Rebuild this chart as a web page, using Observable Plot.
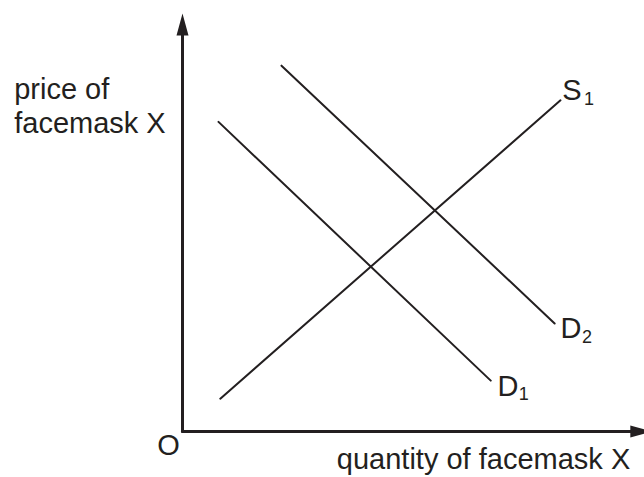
<!DOCTYPE html>
<html>
<head>
<meta charset="utf-8">
<script src="https://cdn.jsdelivr.net/npm/d3@7"></script>
<script src="https://cdn.jsdelivr.net/npm/@observablehq/plot@0.6"></script>
<style>
  html, body { margin: 0; padding: 0; background: #fff; }
  svg { display: block; }
</style>
</head>
<body>
<div id="chart"></div>
<script>
// Economic diagram, abstract units (quantity on x, price on y)
const demand1 = [{q: 0.8, p: 6.88}, {q: 6.85, p: 1.13}];
const demand2 = [{q: 2.2, p: 8.13}, {q: 8.27, p: 2.4}];
const supply1 = [{q: 0.84, p: 0.73}, {q: 8.4, p: 7.36}];

const xAxisLine = [{q: 0, p: 0}, {q: 10.2, p: 0}];
const yAxisLine = [{q: 0, p: 0}, {q: 0, p: 9.0}];
const arrowTips = [{q: 0, p: 9.29, angle: 0}, {q: 10.44, p: 0, angle: 90}];

const curveLabels = [
  {q: 8.44, p: 7.36, text: "S"},
  {q: 8.4, p: 2.07, text: "D"},
  {q: 7.0, p: 0.8, text: "D"}
];
const curveSubscripts = [
  {q: 8.92, p: 7.25, text: "1"},
  {q: 8.88, p: 1.96, text: "2"},
  {q: 7.47, p: 0.69, text: "1"}
];
const axisTitles = [
  {q: -3.74, p: 6.644, text: "price of\nfacemask X"},
  {q: 3.43, p: -0.844, text: "quantity of facemask X"}
];
const originLabel = [{q: -0.31, p: -0.533, text: "O"}];

const ink = "#231f20";
const arrowHead = {
  draw(context) {
    context.moveTo(0, 0);
    context.lineTo(-6, 22);
    context.lineTo(6, 22);
    context.closePath();
  }
};

const chart = Plot.plot({
  width: 644,
  height: 477,
  margin: 0,
  style: {fontFamily: "'Liberation Sans', Arial, sans-serif", background: "#fff"},
  x: {domain: [0, 10], range: [182, 632], axis: null},
  y: {domain: [0, 9], range: [431, 26], axis: null},
  marks: [
    Plot.line(xAxisLine, {x: "q", y: "p", stroke: ink, strokeWidth: 3}),
    Plot.line(yAxisLine, {x: "q", y: "p", stroke: ink, strokeWidth: 3}),
    Plot.dot(arrowTips, {x: "q", y: "p", rotate: "angle", symbol: arrowHead, fill: ink, stroke: "none"}),
    Plot.line(demand1, {x: "q", y: "p", stroke: ink, strokeWidth: 2}),
    Plot.line(demand2, {x: "q", y: "p", stroke: ink, strokeWidth: 2}),
    Plot.line(supply1, {x: "q", y: "p", stroke: ink, strokeWidth: 2}),
    Plot.text(curveLabels, {x: "q", y: "p", text: "text", textAnchor: "start", lineAnchor: "bottom", fontSize: 29, fill: ink}),
    Plot.text(curveSubscripts, {x: "q", y: "p", text: "text", textAnchor: "start", lineAnchor: "bottom", fontSize: 18, fill: ink}),
    Plot.text(axisTitles, {x: "q", y: "p", text: "text", textAnchor: "start", lineAnchor: "bottom", lineHeight: 1.17, fontSize: 29, fill: ink}),
    Plot.text(originLabel, {x: "q", y: "p", text: "text", textAnchor: "middle", lineAnchor: "bottom", fontSize: 29, fill: ink})
  ]
});
document.getElementById("chart").appendChild(chart);
</script>
</body>
</html>
